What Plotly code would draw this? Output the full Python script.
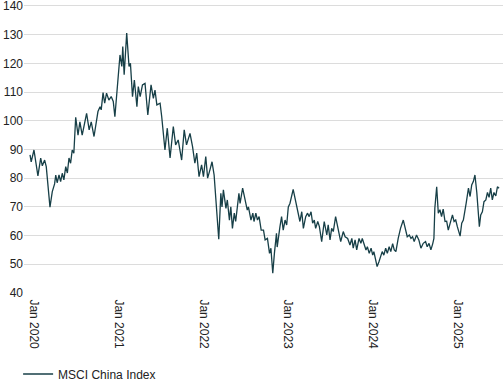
import plotly.graph_objects as go

dates = [
    "2019-12-15", "2019-12-20", "2020-01-01", "2020-01-18", "2020-01-30", "2020-02-06", "2020-02-16", "2020-02-23",
    "2020-03-10", "2020-03-20", "2020-03-30", "2020-04-04", "2020-04-10", "2020-04-18", "2020-04-25", "2020-05-02",
    "2020-05-09", "2020-05-17", "2020-05-24", "2020-05-31", "2020-06-07", "2020-06-14", "2020-06-21", "2020-06-29",
    "2020-07-09", "2020-07-17", "2020-07-27", "2020-08-07", "2020-08-15", "2020-08-26", "2020-09-04", "2020-09-16",
    "2020-10-03", "2020-10-12", "2020-10-17", "2020-10-25", "2020-11-01", "2020-11-09", "2020-11-19", "2020-11-29",
    "2020-12-08", "2020-12-15", "2020-12-27",
    "2021-01-06", "2021-01-14", "2021-01-18", "2021-01-24", "2021-02-04", "2021-02-14", "2021-02-20", "2021-03-01",
    "2021-03-09", "2021-03-20", "2021-03-26", "2021-04-03", "2021-04-13", "2021-04-24", "2021-05-06", "2021-05-20",
    "2021-05-30", "2021-06-06", "2021-06-14", "2021-06-28", "2021-07-05", "2021-07-19", "2021-07-29", "2021-08-10",
    "2021-08-24", "2021-09-03", "2021-09-14", "2021-09-29", "2021-10-10", "2021-10-20", "2021-11-04", "2021-11-15",
    "2021-11-25", "2021-12-03", "2021-12-13", "2021-12-24",
    "2022-01-01", "2022-01-11", "2022-01-19", "2022-01-29", "2022-02-07", "2022-02-16", "2022-03-08", "2022-03-17",
    "2022-03-22", "2022-03-28", "2022-04-08", "2022-04-14", "2022-04-23", "2022-04-29", "2022-05-06", "2022-05-14",
    "2022-05-20", "2022-06-03", "2022-06-08", "2022-06-19", "2022-06-29", "2022-07-09", "2022-07-14", "2022-07-25",
    "2022-08-02", "2022-08-07", "2022-08-15", "2022-08-22", "2022-08-29", "2022-09-07", "2022-09-17", "2022-09-24",
    "2022-10-04", "2022-10-13", "2022-10-19", "2022-10-27", "2022-11-03", "2022-11-12", "2022-11-15", "2022-11-20",
    "2022-11-27", "2022-12-04", "2022-12-11", "2022-12-19", "2022-12-26",
    "2023-01-02", "2023-01-09", "2023-01-23", "2023-02-03", "2023-02-21", "2023-03-01", "2023-03-08", "2023-03-18",
    "2023-03-26", "2023-04-02", "2023-04-10", "2023-04-17", "2023-04-24", "2023-04-30", "2023-05-09", "2023-05-16",
    "2023-05-26", "2023-06-06", "2023-06-17", "2023-06-23", "2023-07-01", "2023-07-08", "2023-07-15", "2023-07-25",
    "2023-08-03", "2023-08-09", "2023-08-16", "2023-08-27", "2023-09-04", "2023-09-15", "2023-09-25", "2023-10-03",
    "2023-10-09", "2023-10-17", "2023-10-24", "2023-11-03", "2023-11-11", "2023-11-17", "2023-11-24", "2023-12-03",
    "2023-12-09", "2023-12-17", "2023-12-25",
    "2024-01-01", "2024-01-06", "2024-01-13", "2024-01-20", "2024-01-28", "2024-02-04", "2024-02-11", "2024-02-18",
    "2024-02-26", "2024-03-04", "2024-03-12", "2024-03-19", "2024-03-27", "2024-04-03", "2024-04-10", "2024-04-20",
    "2024-04-30", "2024-05-12", "2024-05-22", "2024-05-29", "2024-06-07", "2024-06-14", "2024-06-21", "2024-06-28",
    "2024-07-08", "2024-07-18", "2024-07-27", "2024-08-06", "2024-08-16", "2024-08-23", "2024-08-31", "2024-09-08",
    "2024-09-16", "2024-09-21", "2024-09-25", "2024-10-03", "2024-10-10", "2024-10-17", "2024-10-24", "2024-10-31",
    "2024-11-08", "2024-11-15", "2024-11-22", "2024-12-03", "2024-12-10", "2024-12-17", "2024-12-24", "2024-12-31",
    "2025-01-12", "2025-01-19", "2025-01-26", "2025-02-07", "2025-02-17", "2025-02-24", "2025-03-03", "2025-03-10",
    "2025-03-17", "2025-03-25", "2025-04-05", "2025-04-11", "2025-04-18", "2025-04-25", "2025-05-03", "2025-05-10",
    "2025-05-17", "2025-05-24", "2025-05-31", "2025-06-07", "2025-06-15", "2025-06-22", "2025-06-29",
]

msci_china = [
    88.1, 85.7, 89.8, 80.8, 87.0, 84.3, 86.3, 84.0,
    69.9, 75.3, 78.0, 81.1, 78.4, 81.1, 78.8, 81.7,
    79.4, 84.0, 81.8, 87.0, 85.2, 89.8, 88.7, 101.2,
    95.0, 99.6, 95.0, 99.1, 102.6, 96.8, 99.6, 94.5,
    103.2, 104.9, 103.8, 109.8, 106.1, 109.6, 107.2, 108.4,
    106.7, 101.4, 111.9,
    122.9, 118.9, 125.8, 116.0, 130.5, 118.9, 120.0, 108.4,
    114.2, 104.9, 111.9, 108.4, 112.5, 113.0, 102.0, 112.5,
    107.8, 110.7, 105.5, 106.1, 101.4, 89.8, 97.4, 87.0,
    98.0, 91.6, 93.3, 86.3, 96.8, 91.6, 95.6, 91.0,
    85.2, 88.7, 80.5, 84.6,
    80.5, 87.5, 80.0, 82.9, 85.7, 81.1, 58.7, 74.7,
    70.0, 75.9, 69.5, 72.4, 65.4, 70.0, 62.5, 67.8,
    64.9, 74.7, 71.2, 76.5, 73.0, 68.9, 70.0, 65.4,
    67.8, 64.9, 67.8, 65.4, 66.6, 61.9, 61.9, 58.5,
    59.0, 53.8, 55.6, 46.9, 53.8, 60.8, 56.0, 59.6,
    63.1, 66.6, 61.9, 65.4, 63.7,
    70.0, 71.2, 76.1, 71.8, 64.9, 68.3, 62.5, 66.6,
    67.8, 66.6, 68.3, 64.3, 65.4, 62.5, 64.9, 63.1,
    57.9, 64.9, 60.2, 63.7, 58.5, 62.5, 61.4, 66.6,
    62.5, 60.2, 57.9, 61.4, 59.6, 59.0, 56.7, 59.0,
    55.6, 58.5, 55.0, 59.0, 57.3, 59.0, 57.3, 55.0,
    56.1, 53.8, 55.6,
    53.2, 54.4, 51.5, 49.2, 50.9, 52.6, 54.4, 53.2,
    55.6, 53.8, 56.1, 54.4, 57.2, 55.0, 54.4, 59.0,
    62.5, 65.4, 61.4, 59.6, 60.2, 59.0, 59.6, 57.9,
    60.2, 58.5, 55.6, 57.3, 57.9, 56.1, 57.3, 55.0,
    57.2, 59.0, 69.5, 77.0, 67.8, 69.0, 66.6, 69.2,
    64.9, 65.0, 61.9, 65.4, 67.2, 64.9, 65.4, 63.1,
    59.8, 64.3, 65.4, 71.2, 76.5, 73.6, 77.6, 78.8,
    81.1, 75.0, 63.1, 67.2, 68.3, 71.8, 72.4, 75.0,
    73.3, 76.5, 72.4, 75.0, 73.8, 77.0, 76.5,
]

tick_vals = ["2020-01-01", "2021-01-01", "2022-01-01", "2023-01-01", "2024-01-01", "2025-01-01"]
tick_text = ["Jan 2020", "Jan 2021", "Jan 2022", "Jan 2023", "Jan 2024", "Jan 2025"]
y_ticks = [40, 50, 60, 70, 80, 90, 100, 110, 120, 130, 140]

fig = go.Figure()
fig.add_trace(go.Scatter(
    x=dates, y=msci_china, mode="lines", name="MSCI China Index",
    line=dict(color="#173f47", width=1.3),
))

fig.update_layout(
    width=503, height=384,
    margin=dict(l=24, r=0, t=3, b=91, autoexpand=False),
    paper_bgcolor="white", plot_bgcolor="white",
    font=dict(family="Liberation Sans, Arial, sans-serif", size=12, color="#222222"),
    showlegend=True,
    legend=dict(orientation="h", xref="container", yref="container", x=0.036, y=0.026,
                xanchor="left", yanchor="middle",
                font=dict(size=12, color="#222222")),
    xaxis=dict(
        range=["2019-11-19", "2025-07-16"], automargin=False,
        tickvals=tick_vals, ticktext=tick_text, tickangle=90,
        showgrid=False, zeroline=False, showline=False,
        ticks="outside", ticklen=3, tickcolor="rgba(0,0,0,0)",
    ),
    yaxis=dict(
        range=[40, 141], tickvals=y_ticks, automargin=False,
        ticklabeloverflow="allow",
        showgrid=True, gridcolor="#dcdcdc", gridwidth=1,
        zeroline=False, showline=False, ticks="",
    ),
)

fig.write_html("out.html", config={"displayModeBar": False},
               post_script="document.body.style.margin='0';")
